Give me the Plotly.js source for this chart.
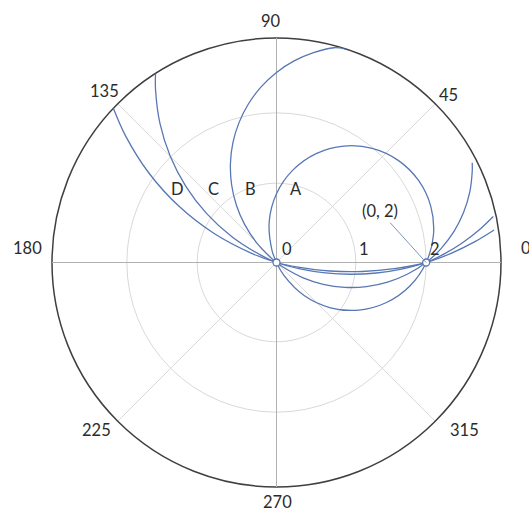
<!DOCTYPE html>
<html>
<head>
<meta charset="utf-8">
<script src="https://cdn.plot.ly/plotly-3.0.1.min.js"></script>
<style>html,body{margin:0;padding:0;background:#fff;}#chart{width:529px;height:510px;}</style>
</head>
<body>
<div id="chart"></div>
<script>
// ---- data (polar: theta in degrees, r in units) ----
const curveNames = ['A', 'B', 'C', 'D'];

const thetaA = [-65.3, -60, -50, -40, -30, -20, -10, 0, 10, 20, 30, 40, 50, 60, 70, 80, 90, 100, 110, 114.7];
const rA     = [0, 0.203, 0.581, 0.941, 1.272, 1.564, 1.810, 2, 2.130, 2.194, 2.192, 2.123, 1.991, 1.797, 1.549, 1.253, 0.92, 0.559, 0.181, 0];

const thetaB = [72, 75, 80, 85, 90, 95, 100, 105, 110, 115, 120, 125, 130, 135, 140, 141.8, -35, -30, -25, -20, -15, -10, -5, 0, 5, 10, 15, 20, 25, 27];
const rB     = [3.0, 2.971, 2.848, 2.704, 2.54, 2.356, 2.154, 1.935, 1.703, 1.457, 1.2, 0.934, 0.660, 0.382, 0.101, 0, 0.112, 0.402, 0.689, 0.969, 1.244, 1.508, 1.760, 2, 2.213, 2.411, 2.589, 2.748, 2.886, 2.935];

const thetaC = [122.6, 125, 130, 135, 140, 145, 150, 155, 157.55, -15, -12, -9, -6, -3, 0, 3, 6, 9, 12];
const rC     = [3.0, 2.818, 2.422, 2.008, 1.579, 1.138, 0.688, 0.233, 0, 0.327, 0.667, 1.005, 1.341, 1.673, 2, 2.250, 2.495, 2.732, 2.962];

const thetaD = [136.6, 140, 145, 150, 155, 160, 162.85, -12, -9, -6, -3, 0, 3, 6, 8.5];
const rD     = [3.0, 2.633, 2.079, 1.508, 0.925, 0.337, 0, 0.293, 0.724, 1.153, 1.578, 2, 2.336, 2.666, 2.94];

const pointR = [0, 2];
const pointTheta = [0, 0];
const pointLabel = '(0, 2)';

const radialGridVals = [1.06, 2];
const radialTickLabels = ['0', '1', '2'];
const angleTickVals = [0, 45, 90, 135, 180, 225, 270, 315];
const angleTickLabels = ['0', '45', '90', '135', '180', '225', '270', '315'];

// ---- layout helpers (positions in chart units, converted to paper) ----
const RMAX = 3;
function px(u) { return 0.5 + u / (2 * RMAX); }
const UNIT_PX = 449 / (2 * RMAX);

const angleLabelPos = [[3.34, 0.196], [2.296, 2.24], [-0.076, 3.231], [-2.293, 2.286],
                       [-3.334, 0.196], [-2.412, -2.234], [0.011, -3.2], [2.508, -2.233]];
const radialLabelPos = [[0.141, 0.178], [1.168, 0.178], [2.116, 0.178]];
const curveLabelPos = [[0.258, 0.988], [-0.343, 0.988], [-0.847, 0.988], [-1.323, 0.988]];
const pointLabelPos = [1.382, 0.683];

const LINE = '#5877b5';
const FONT = {family: 'Lato, "Open Sans", sans-serif', size: 16.5, color: '#2b2b2b'};

function curve(theta, r) {
  return {type: 'scatterpolar', subplot: 'polar2', theta: theta, r: r, mode: 'lines',
          line: {color: LINE, width: 1.3, shape: 'spline', smoothing: 1}, hoverinfo: 'skip', showlegend: false};
}

const traces = [
  // base polar subplot (light grid, rings, outer circle) needs a trace to be drawn
  {type: 'scatterpolar', subplot: 'polar', r: [null], theta: [null], mode: 'markers', hoverinfo: 'skip', showlegend: false},
  curve(thetaA, rA), curve(thetaB, rB), curve(thetaC, rC), curve(thetaD, rD),
  {type: 'scatterpolar', subplot: 'polar2', r: pointR, theta: pointTheta, mode: 'markers',
   marker: {size: 7, color: '#ffffff', line: {color: LINE, width: 1.3}}, hoverinfo: 'skip', showlegend: false}
];

const annotations = [];
angleTickLabels.forEach((t, i) => annotations.push({xref: 'paper', yref: 'paper', x: px(angleLabelPos[i][0]), y: px(angleLabelPos[i][1]),
  text: t, showarrow: false, font: FONT, xanchor: 'center', yanchor: 'middle'}));
radialTickLabels.forEach((t, i) => annotations.push({xref: 'paper', yref: 'paper', x: px(radialLabelPos[i][0]), y: px(radialLabelPos[i][1]),
  text: t, showarrow: false, font: FONT, xanchor: 'center', yanchor: 'middle'}));
curveNames.forEach((t, i) => annotations.push({xref: 'paper', yref: 'paper', x: px(curveLabelPos[i][0]), y: px(curveLabelPos[i][1]),
  text: t, showarrow: false, font: FONT, xanchor: 'center', yanchor: 'middle'}));
annotations.push({xref: 'paper', yref: 'paper', x: px(pointR[1]), y: px(0), text: pointLabel, font: FONT,
  showarrow: true, arrowhead: 0, arrowwidth: 1, arrowcolor: '#7d93b8', standoff: 0,
  ax: (pointLabelPos[0] - pointR[1]) * UNIT_PX, ay: -pointLabelPos[1] * UNIT_PX});

const layout = {
  width: 529, height: 510,
  margin: {l: 52, r: 28, t: 38, b: 23, pad: 0},
  paper_bgcolor: '#ffffff',
  showlegend: false,
  polar: {
    domain: {x: [0, 1], y: [0, 1]},
    bgcolor: '#ffffff',
    radialaxis: {range: [0, RMAX], tickvals: radialGridVals, showticklabels: false, ticks: '',
                 showline: false, gridcolor: '#d9d9d9', gridwidth: 1},
    angularaxis: {tickvals: angleTickVals, showticklabels: false, ticks: '', rotation: 0, direction: 'counterclockwise',
                  gridcolor: '#dadada', gridwidth: 1, showline: true, linecolor: '#3f3f3f', linewidth: 1.5}
  },
  polar2: {
    domain: {x: [0, 1], y: [0, 1]},
    bgcolor: 'rgba(0,0,0,0)',
    radialaxis: {range: [0, RMAX], showgrid: false, showticklabels: false, ticks: '', showline: false},
    angularaxis: {tickvals: [0, 90, 180, 270], showticklabels: false, ticks: '', rotation: 0, direction: 'counterclockwise',
                  gridcolor: '#b0b0b0', gridwidth: 1, showline: false}
  },
  annotations: annotations
};

Plotly.newPlot('chart', traces, layout, {staticPlot: true, displayModeBar: false});
</script>
</body>
</html>
